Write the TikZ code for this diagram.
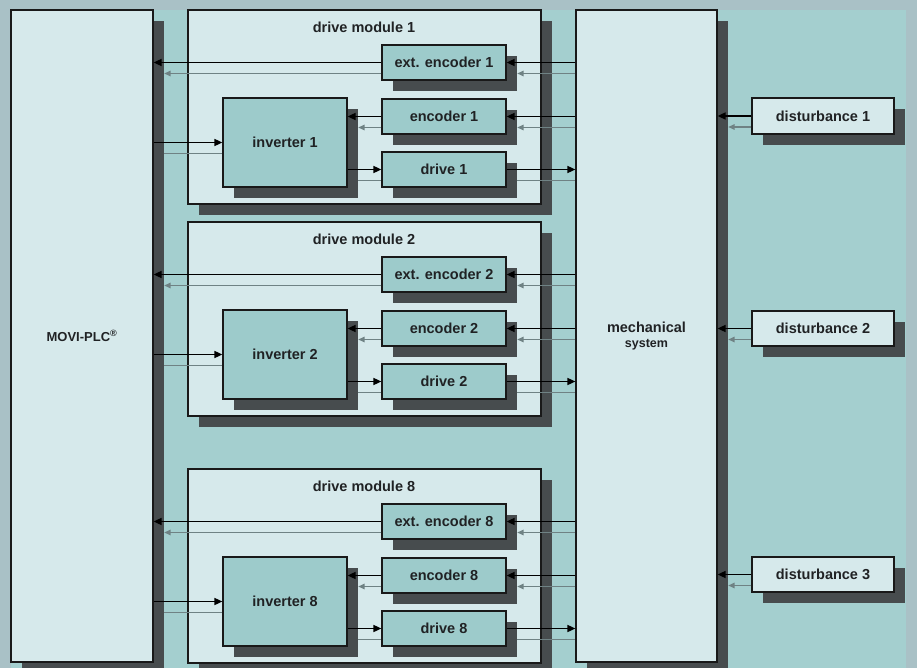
\documentclass[tikz,border=0pt]{standalone}
\usepackage{fontspec}
\setmainfont{Liberation Sans}
\usetikzlibrary{arrows.meta,calc}
\definecolor{frameC}{HTML}{A9C1C6}
\definecolor{bgC}{HTML}{A4CFCF}
\definecolor{lightC}{HTML}{D6E9EB}
\definecolor{tealC}{HTML}{9DCBCB}
\definecolor{shadC}{HTML}{474C4E}
\definecolor{grayL}{HTML}{6F8284}
\definecolor{txtC}{HTML}{202224}
\tikzset{
  box/.style={draw=black!90, line width=1.2pt, inner sep=0pt, text=txtC, align=center,
    font=\bfseries\fontsize{14.5}{17}\selectfont},
  lbox/.style={box, fill=lightC},
  tbox/.style={box, fill=tealC},
  shad/.style={fill=shadC, inner sep=0pt, draw=none},
  ttl/.style={text=txtC, font=\bfseries\fontsize{14.5}{17}\selectfont, inner sep=0pt},
  blk/.style={line width=1.6pt, black},
  gry/.style={line width=1.5pt, grayL},
  arr/.style={-{Triangle[length=8pt,width=7pt]}},
  garr/.style={-{Triangle[length=6.5pt,width=5.5pt]}}
}
% name, style, x1, y1, x2, y2, text
\newcommand\shbox[7]{%
  \node[shad, minimum width={(#5)-(#3)}, minimum height={(#6)-(#4)}] (sh#1) at ({((#3)+(#5))/2+11},{((#4)+(#6))/2+11}) {};
  \node[#2, minimum width={(#5)-(#3)}, minimum height={(#6)-(#4)}] (#1) at ({((#3)+(#5))/2},{((#4)+(#6))/2}) {#7};
}
\begin{document}
\begin{tikzpicture}[x=1pt,y=-1pt]
\useasboundingbox (0,0) rectangle (917,668);
\fill[frameC] (0,0) rectangle (917,668);
\fill[bgC] (11,10) rectangle (906,668);

\shbox{plc}{lbox}{11}{10}{153}{662}{\fontsize{13}{15}\selectfont MOVI-PLC\textsuperscript{®}}
\shbox{mech}{lbox}{576}{10}{717}{662}{mechanical\\[-2pt]{\fontsize{12.5}{15}\selectfont system}}

\foreach \k/\o in {1/0,2/212,8/459}{
  \shbox{mod\k}{lbox}{188}{10+\o}{541}{204+\o}{}
  \node[ttl] (title\k) at (364,{27+\o}) {drive module \k};
  \shbox{ext\k}{tbox}{382}{45+\o}{506}{80+\o}{ext. encoder \k}
  \shbox{enc\k}{tbox}{382}{99+\o}{506}{134+\o}{encoder \k}
  \shbox{drv\k}{tbox}{382}{152+\o}{506}{187+\o}{drive \k}
  \shbox{inv\k}{tbox}{223}{98+\o}{347}{187+\o}{inverter \k}
}

\shbox{dist1}{lbox}{752}{98}{894}{134}{disturbance 1}
\shbox{dist2}{lbox}{752}{311}{894}{346}{disturbance 2}
\shbox{dist3}{lbox}{752}{557}{894}{592}{disturbance 3}

\foreach \k in {1,2,8}{
  \draw[blk,arr] (mech.west |- ext\k.east) -- (ext\k.east);
  \draw[gry,garr] (mech.west |- shext\k.east) -- (shext\k.east);
  \draw[blk,arr] (ext\k.west) -- (plc.east |- ext\k.west);
  \draw[gry,garr] (ext\k.west |- shext\k.east) -- (shplc.east |- shext\k.east);
  \draw[blk,arr] (mech.west |- enc\k.east) -- (enc\k.east);
  \draw[gry,garr] (mech.west |- shenc\k.east) -- (shenc\k.east);
  \draw[blk,arr] (enc\k.west) -- (inv\k.east |- enc\k.west);
  \draw[gry,garr] (enc\k.west |- shenc\k.east) -- (shinv\k.east |- shenc\k.east);
  \draw[blk,arr] (plc.east |- inv\k.west) -- (inv\k.west);
  \draw[gry] (shplc.east |- shinv\k.west) -- (inv\k.west |- shinv\k.west);
  \draw[blk,arr] (inv\k.east |- drv\k.west) -- (drv\k.west);
  \draw[gry] (shinv\k.east |- shdrv\k.west) -- (drv\k.west |- shdrv\k.west);
  \draw[blk,arr] (drv\k.east) -- (mech.west |- drv\k.east);
  \draw[gry] (shdrv\k.east) -- (mech.west |- shdrv\k.east);
}
\foreach \j in {1,2,3}{
  \draw[blk,arr] (dist\j.west) -- (mech.east |- dist\j.west);
  \draw[gry,garr] (dist\j.west |- shdist\j.west) -- (shmech.east |- shdist\j.west);
}
\end{tikzpicture}
\end{document}
